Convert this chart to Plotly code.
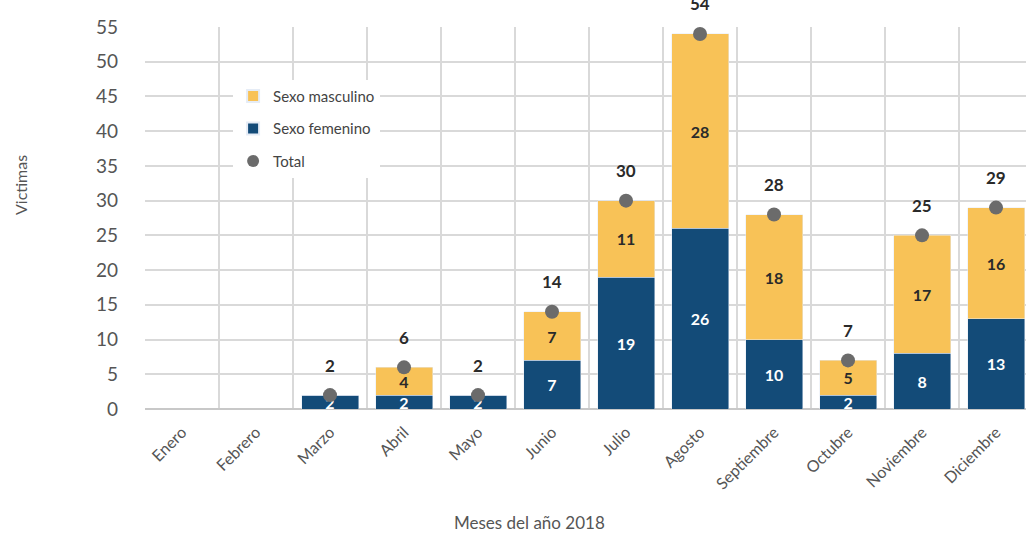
import plotly.graph_objects as go

meses = ["Enero", "Febrero", "Marzo", "Abril", "Mayo", "Junio", "Julio",
         "Agosto", "Septiembre", "Octubre", "Noviembre", "Diciembre"]
femenino = [0, 0, 2, 2, 2, 7, 19, 26, 10, 2, 8, 13]
masculino = [0, 0, 0, 4, 0, 7, 11, 28, 18, 5, 17, 16]
total = [None, None, 2, 6, 2, 14, 30, 54, 28, 7, 25, 29]
y_ticks = list(range(0, 56, 5))

NAVY = "#134b78"
YELLOW = "#f8c257"
GREY = "#6b6b6b"
FONT = "Lato"

def txt(vals):
    return [str(v) if v else "" for v in vals]

fig = go.Figure()
fig.add_trace(go.Bar(
    x=meses, y=femenino, name="Sexo femenino", marker_color=NAVY,
    text=txt(femenino), textposition="inside", insidetextanchor="middle",
    constraintext="none", textangle=0,
    textfont=dict(color="white", size=16, family=FONT, weight="bold"),
    legendrank=2, legendgroup="f",
))
fig.add_trace(go.Bar(
    x=meses, y=masculino, name="Sexo masculino", marker_color=YELLOW,
    text=txt(masculino), textposition="inside", insidetextanchor="middle",
    constraintext="none", textangle=0,
    textfont=dict(color="#2a2a2a", size=16, family=FONT, weight="bold"),
    legendrank=1, legendgroup="m",
))
fig.add_trace(go.Scatter(
    x=meses, y=total, name="Total", mode="markers",
    marker=dict(color=GREY, size=14),
    legendrank=3, legendgroup="t", cliponaxis=False,
))

for m, t in zip(meses, total):
    if t is not None:
        fig.add_annotation(x=m, y=t, text=f"<b>{t}</b>", showarrow=False,
                           yshift=30, font=dict(size=17, color="#2a2a2a", family=FONT))

fig.add_annotation(xref="paper", yref="paper", x=0.437, y=-0.296,
                   xanchor="center", yanchor="middle",
                   text="Meses del año 2018", showarrow=False,
                   font=dict(size=17, color="#555555", family=FONT))
fig.add_annotation(xref="paper", yref="paper", x=-0.142, y=0.586,
                   xanchor="center", yanchor="middle",
                   text="Victimas", showarrow=False, textangle=-90,
                   font=dict(size=16, color="#555555", family=FONT))

fig.update_layout(
    width=1026, height=535,
    margin=dict(l=145, r=0, t=27, b=126, autoexpand=False),
    barmode="stack", bargap=0.23,
    plot_bgcolor="white", paper_bgcolor="white",
    font=dict(family=FONT, color="#555555"),
    showlegend=True,
    legend=dict(x=0.1, y=0.862, xanchor="left", yanchor="top",
                bgcolor="white", font=dict(size=15, color="#444444"),
                tracegroupgap=10, itemsizing="constant"),
    xaxis=dict(type="category", range=[-0.5, 11.405], tickson="boundaries",
               showgrid=True, gridcolor="#d9d9d9", gridwidth=1.5,
               tickangle=-45, ticks="", ticklabelstandoff=10,
               tickfont=dict(size=16, color="#555555"),
               showline=False, zeroline=False, automargin=False),
    yaxis=dict(range=[0, 55], tickvals=y_ticks, showgrid=True,
               gridcolor="#d9d9d9", gridwidth=1.5,
               tickfont=dict(size=19, color="#555555"),
               ticks="", ticklabelstandoff=26,
               zeroline=True, zerolinecolor="#c8c8c8", zerolinewidth=1.5,
               showline=False, automargin=False),
)

fig.write_html("out.html", config={"displayModeBar": False},
               post_script="document.body.style.margin='0';")
